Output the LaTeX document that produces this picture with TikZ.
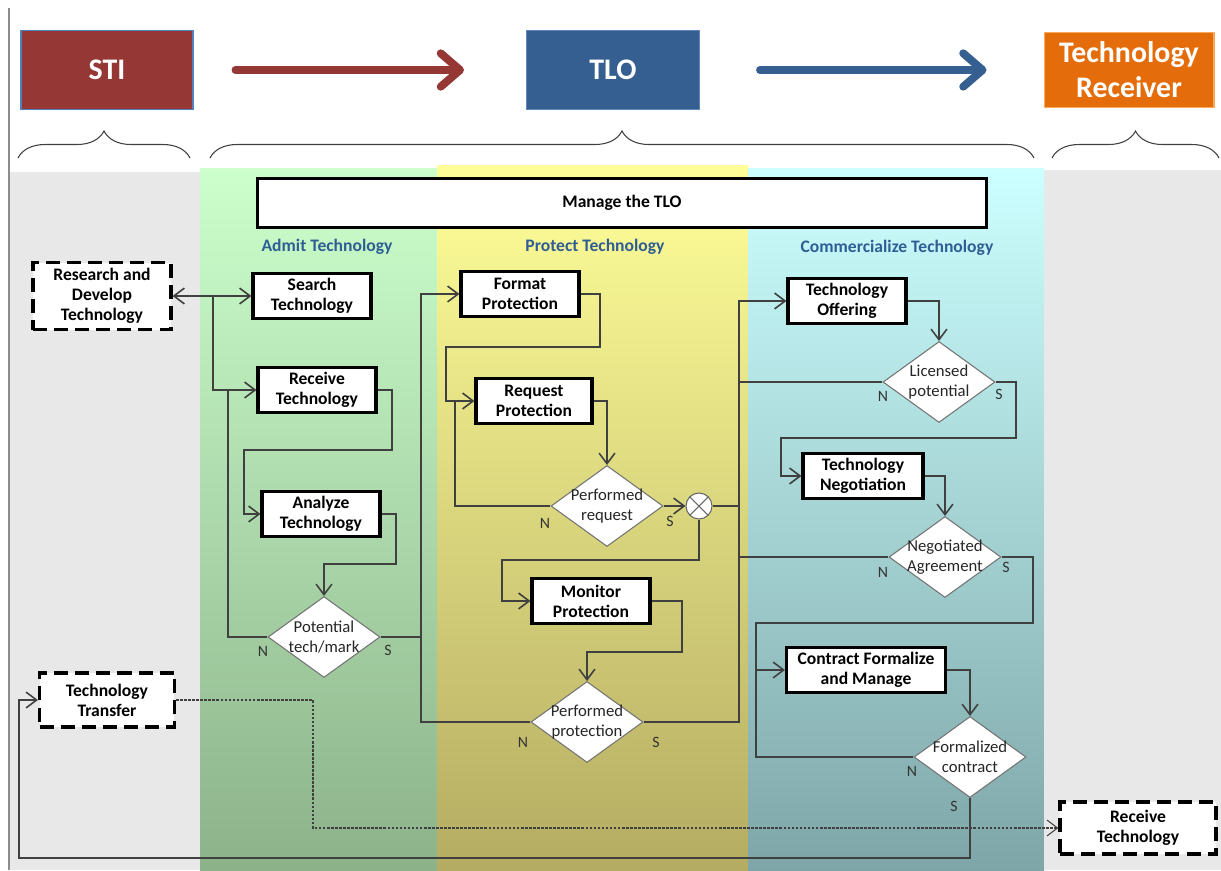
\documentclass[tikz,border=0pt]{standalone}
\usepackage{fontspec}
\setmainfont{Carlito}
\usepackage{tikz}
\usetikzlibrary{arrows.meta,positioning,shapes.geometric,calc,decorations.pathreplacing}

\definecolor{stired}{RGB}{149,55,53}
\definecolor{stiedge}{RGB}{79,129,189}
\definecolor{tloblue}{RGB}{54,95,145}
\definecolor{tloedge}{RGB}{96,135,185}
\definecolor{rcvorange}{RGB}{228,108,10}
\definecolor{rcvedge}{RGB}{250,170,90}
\definecolor{lanetext}{RGB}{47,94,148}
\definecolor{sidegray}{RGB}{232,232,232}
\definecolor{linegray}{RGB}{64,64,64}
\definecolor{greentop}{RGB}{204,255,204}
\definecolor{greenbot}{RGB}{140,178,138}
\definecolor{yellowtop}{RGB}{255,255,153}
\definecolor{yellowbot}{RGB}{180,172,98}
\definecolor{cyantop}{RGB}{204,255,255}
\definecolor{cyanbot}{RGB}{126,166,168}

\newcommand{\dlines}[2]{\makebox[0pt]{#1}\\\makebox[0pt]{#2}}

\begin{document}
\begin{tikzpicture}[x=0.02cm,y=-0.02cm,
  >={Straight Barb[length=6pt,width=9pt]},
  every node/.style={font=\fontsize{10}{11.5}\selectfont},
  head/.style={draw, line width=0.6pt, minimum width=3.44cm, minimum height=1.58cm, text=white, align=center, font=\fontsize{17}{20}\selectfont\bfseries},
  bigarrow/.style={line width=4.5pt, line cap=round, -{Straight Barb[length=11pt,width=19pt,round]}},
  brace/.style={draw=linegray, line width=0.6pt, decorate, decoration={brace,amplitude=0.54cm}},
  proc/.style={draw, line width=1.8pt, fill=white, align=center, minimum width=2.36cm, minimum height=0.9cm, inner sep=1pt, font=\fontsize{10}{11.5}\selectfont\bfseries},
  ext/.style={proc, dash pattern=on 8pt off 4pt},
  dec/.style={diamond, draw=black!55, line width=0.6pt, fill=white, minimum width=2.24cm, minimum height=1.62cm, inner sep=0pt, align=center, text=black!85, font=\fontsize{9.5}{11.5}\selectfont},
  flow/.style={draw=linegray, line width=0.9pt},
  yn/.style={text=black!80, font=\fontsize{9}{10}\selectfont},
  lanetitle/.style={text=lanetext, font=\fontsize{10}{12}\selectfont\bfseries}]

  % background and lanes
  \fill[white] (0,0) rectangle (1221,870);
  \useasboundingbox (0,0) rectangle (1221,870);
  \fill[sidegray] (10,172) rectangle (200,870);
  \fill[top color=greentop, bottom color=greenbot] (200,168) rectangle (437,870);
  \fill[top color=yellowtop, bottom color=yellowbot] (437,165) rectangle (748,870);
  \fill[top color=cyantop, bottom color=cyanbot] (748,168) rectangle (1044,870);
  \fill[sidegray] (1044,170) rectangle (1221,870);
  \draw[black!45, line width=0.6pt] (9,8) -- (9,870);

  % actors
  \node[head, fill=stired, draw=stiedge] (sti) at (107,70) {STI};
  \node[head, fill=tloblue, draw=tloedge, minimum width=3.46cm] (tlo) at (613,70) {TLO};
  \node[head, fill=rcvorange, draw=rcvedge, minimum width=3.4cm, minimum height=1.5cm] (trcv) at (1129,70) {Technology\\Receiver};
  \draw[bigarrow, stired, shorten <=0.84cm, shorten >=1.24cm] (sti) -- (tlo);
  \draw[bigarrow, tloblue, shorten <=1.2cm, shorten >=1.14cm] (tlo) -- (trcv);

  \draw[brace] (18,158) -- (190,158);
  \draw[brace] (210,158) -- (1034,158);
  \draw[brace] (1052,158) -- (1219,158);

  \node[draw, line width=1.8pt, fill=white, minimum width=14.58cm, minimum height=0.98cm, font=\fontsize{10}{11.5}\selectfont\bfseries] (mgr) at (622,203) {Manage the TLO};
  \node[lanetitle] (t-admit) at (327,247) {Admit Technology};
  \node[lanetitle] (t-prot) at (595,247) {Protect Technology};
  \node[lanetitle] (t-comm) at (897,248) {Commercialize Technology};

  % steps
  \node[ext, minimum width=2.76cm, minimum height=1.34cm] (rnd) at (102,296) {Research and\\Develop\\Technology};
  \node[ext, minimum width=2.7cm, minimum height=1.08cm] (ttr) at (107,700) {Technology\\Transfer};
  \node[ext, minimum width=3.12cm, minimum height=1.04cm] (rtech) at (1138,828) {Receive\\Technology};

  \node[proc] (srch) at (312,296) {Search\\Technology};
  \node[proc] (recv) at (317,390) {Receive\\Technology};
  \node[proc] (anlz) at (321,514) {Analyze\\Technology};
  \node[dec] (pot) at (324,637) {\dlines{Potential}{tech/mark}};

  \node[proc] (fmt) at (520,294) {Format\\Protection};
  \node[proc, minimum width=2.32cm] (req) at (534,401) {Request\\Protection};
  \node[dec] (preq) at (607,506) {\dlines{Performed}{request}};
  \node[circle, draw=black!60, fill=white, line width=0.6pt, minimum size=0.52cm, inner sep=0pt,
    path picture={\draw[black!60, line width=0.6pt] (path picture bounding box.north west) -- (path picture bounding box.south east)
      (path picture bounding box.south west) -- (path picture bounding box.north east);}] (xor) at (699,506) {};
  \node[proc] (mon) at (591,601) {Monitor\\Protection};
  \node[dec] (pprot) at (587,722) {\dlines{Performed}{protection}};

  \node[proc] (off) at (847,301) {Technology\\Offering};
  \node[dec] (lic) at (939,382) {\dlines{Licensed}{potential}};
  \node[proc, minimum width=2.4cm] (nego) at (863,476) {Technology\\Negotiation};
  \node[dec] (agree) at (945,557) {\dlines{Negotiated}{Agreement}};
  \node[proc, minimum width=3.18cm] (ctr) at (866,670) {Contract Formalize\\and Manage};
  \node[dec] (formal) at (970,757) {\dlines{Formalized}{contract}};

  % N / S answers
  \node[yn] (pot-n) at (263,651) {N};
  \node[yn] (pot-s) at (388,650) {S};
  \node[yn] (preq-n) at (545,523) {N};
  \node[yn] (preq-s) at (670,521) {S};
  \node[yn] (pprot-n) at (523,742) {N};
  \node[yn] (pprot-s) at (656,742) {S};
  \node[yn] (lic-n) at (883,396) {N};
  \node[yn] (lic-s) at (999,394) {S};
  \node[yn] (agree-n) at (883,572) {N};
  \node[yn] (agree-s) at (1006,567) {S};
  \node[yn] (formal-n) at (912,771) {N};
  \node[yn] (formal-s) at (954,806) {S};

  % connectors
  \coordinate (jr) at (213,296);
  \draw[flow,<->] (rnd.east) -- (srch.west);
  \draw[flow,->] (jr) |- (recv.west);
  \draw[flow,->] (recv.east) -| (392,450) -- (244,450) |- (anlz.west);
  \draw[flow,->] (anlz.east) -| (396,564) -| (pot.north);
  \draw[flow] (pot.west) -| (228,390);
  \draw[flow] (pot.east) -- (421,637);
  \draw[flow,->] (pprot.west) -| (421,294) -- (fmt.west);
  \draw[flow,->] (fmt.east) -| (600,347) -- (446,347) |- (req.west);
  \draw[flow,->] (req.east) -| (preq.north);
  \draw[flow] (preq.west) -| (455,401);
  \draw[flow,->] (preq.east) -- (xor.west);
  \draw[flow,->] (xor.south) |- (502,560) |- (mon.west);
  \draw[flow,->] (mon.east) -| (682,652) -| (pprot.north);
  \draw[flow,->] (pprot.east) -| (739,301) -- (off.west);
  \draw[flow] (xor.east) -- (739,506);
  \draw[flow] (lic.west) -- (739,382);
  \draw[flow] (agree.west) -- (739,557);
  \draw[flow,->] (off.east) -| (lic.north);
  \draw[flow,->] (lic.east) -| (1016,438) -- (781,438) |- (nego.west);
  \draw[flow,->] (nego.east) -| (agree.north);
  \draw[flow,->] (agree.east) -| (1033,623) -- (756,623) |- (ctr.west);
  \draw[flow] (formal.west) -| (756,670);
  \draw[flow,->] (ctr.east) -| (formal.north);
  \draw[flow,->] (formal.south) |- (19,858) |- (ttr.west);
  \draw[flow,line width=0.6pt,dash pattern=on 1.5pt off 0.8pt,->] (ttr.east) -| (313,828) -- (rtech.west);
\end{tikzpicture}
\end{document}
